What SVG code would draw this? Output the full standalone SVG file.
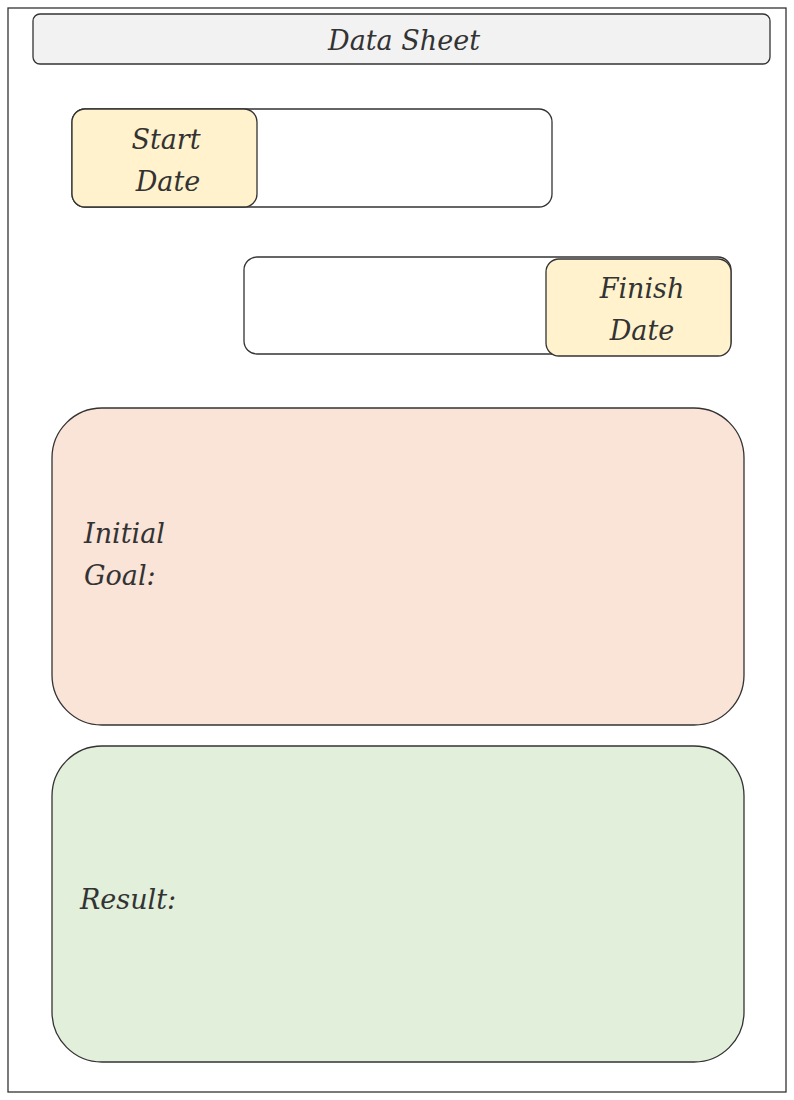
<svg xmlns="http://www.w3.org/2000/svg" width="794" height="1100" viewBox="0 0 794 1100">
<style>
.s{stroke:#333;stroke-width:1.3}
.t{font-family:"DejaVu Serif","Liberation Serif",serif;font-style:italic;font-size:27px;fill:#333}
</style>
<rect x="0" y="0" width="794" height="1100" fill="#fff"/>
<rect x="8" y="8" width="778" height="1084" fill="none" stroke="#333" stroke-width="1.3"/>
<g id="title"><rect class="s" x="33" y="14" width="737" height="50" rx="7" fill="#f2f2f2"/><text class="t" x="404" y="50" text-anchor="middle">Data Sheet</text></g>
<g id="start"><rect class="s" x="72" y="109" width="480" height="98" rx="13" fill="#fff"/><rect class="s" x="72" y="109" width="185" height="98" rx="13" fill="#fff2cc"/><text class="t" x="166" y="149" text-anchor="middle">Start</text><text class="t" x="168" y="191" text-anchor="middle">Date</text></g>
<g id="finish"><rect class="s" x="244" y="257" width="487" height="97" rx="13" fill="#fff"/><rect class="s" x="546" y="259" width="185" height="97" rx="13" fill="#fff2cc"/><text class="t" x="642" y="298" text-anchor="middle">Finish</text><text class="t" x="642" y="340" text-anchor="middle">Date</text></g>
<g id="goal"><rect class="s" x="52" y="408" width="692" height="317" rx="50" fill="#fae3d7"/><text class="t" x="84" y="543">Initial</text><text class="t" x="84" y="585">Goal:</text></g>
<g id="result"><rect class="s" x="52" y="746" width="692" height="316" rx="50" fill="#e2efda"/><text class="t" x="80" y="909">Result:</text></g>
<g id="connectors"/>
</svg>
